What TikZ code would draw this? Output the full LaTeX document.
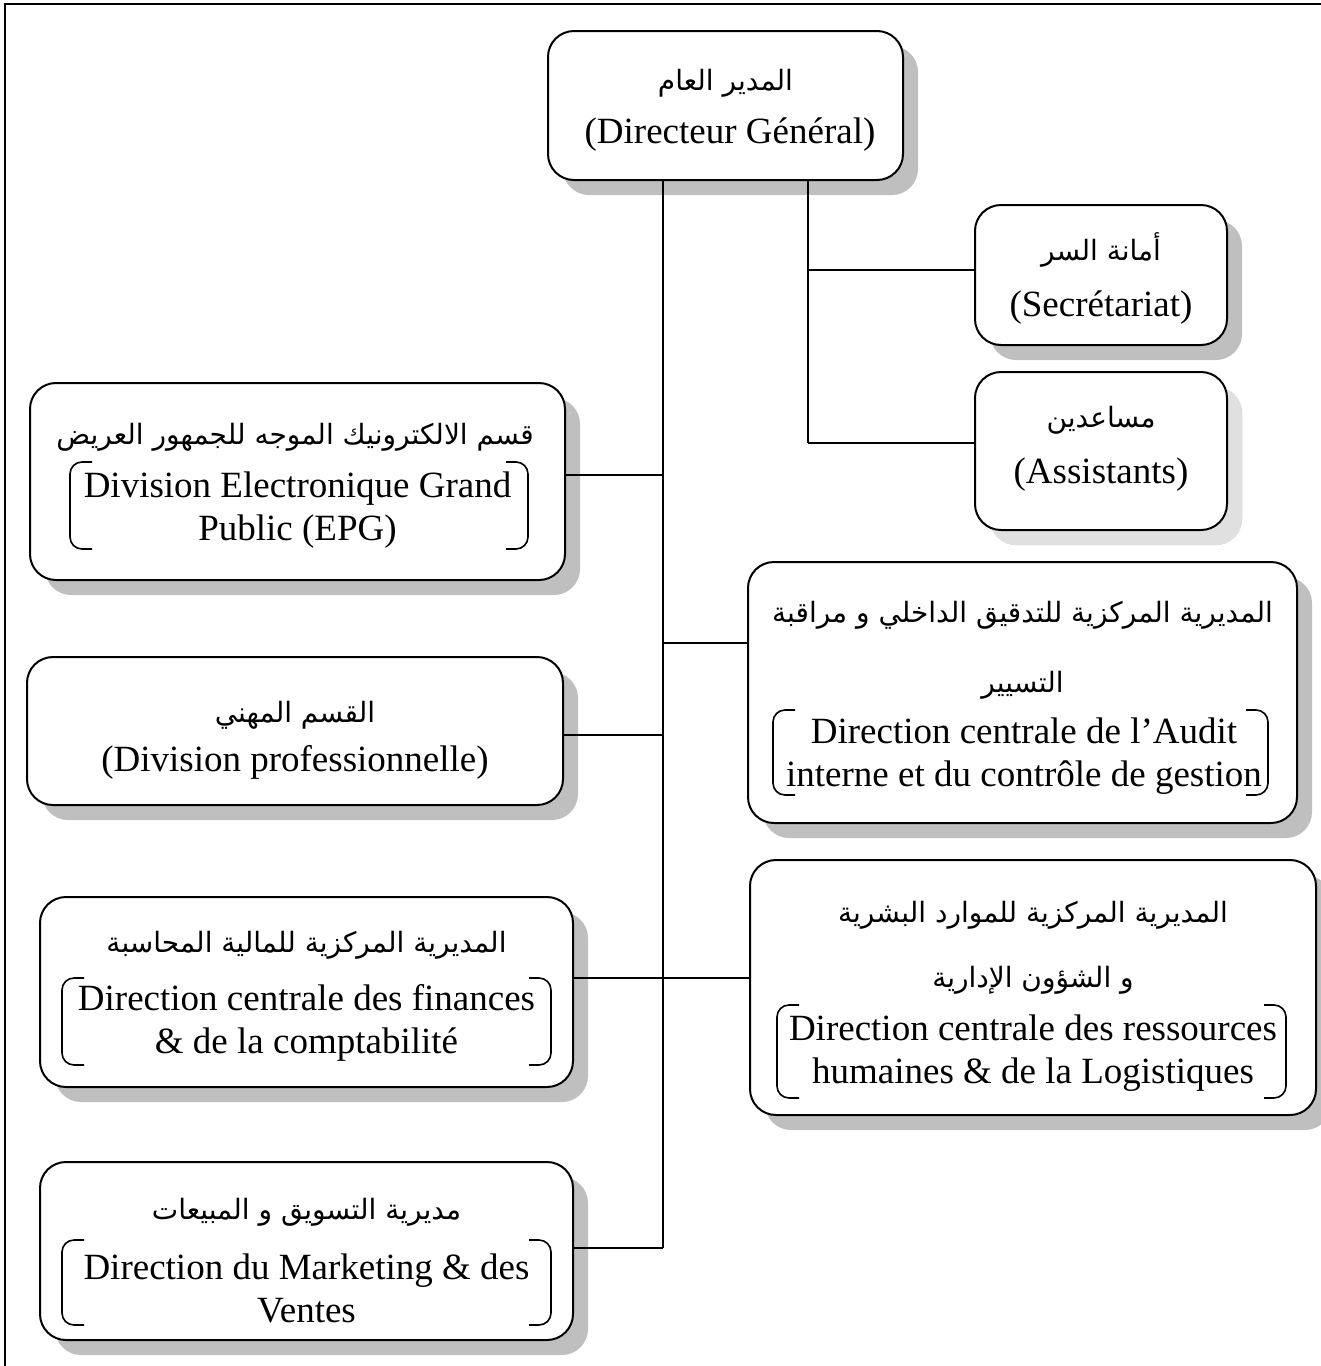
\documentclass[tikz,border=0pt]{standalone}
\usepackage{fontspec}
\setmainfont{Liberation Serif}
\newfontfamily\arabicfont[Script=Arabic]{DejaVu Sans}
\TeXXeTstate=1
\usetikzlibrary{shadows}

% a pair of square brackets with rounded ends, framing a French title
\newcommand\brackpair[4]{%
  \draw[brk] (#1+22,#2) -- (#1,#2) -- (#1,#4) -- (#1+22,#4);
  \draw[brk] (#3-22,#2) -- (#3,#2) -- (#3,#4) -- (#3-22,#4);
}

\begin{document}
\begin{tikzpicture}[x=1pt,y=-1pt,
  unit/.style={draw, line width=2pt, rounded corners=26pt, fill=white,
    inner sep=0pt,
    drop shadow={shadow xshift=15pt, shadow yshift=-15pt, fill=black!25, opacity=1}},
  faintunit/.style={unit,
    drop shadow={shadow xshift=15pt, shadow yshift=-15pt, fill=black!12, opacity=1}},
  ar/.style={inner sep=0pt, font={\arabicfont\fontsize{28}{33}\selectfont}},
  fr/.style={inner sep=0pt, align=center, font={\fontsize{37}{43}\selectfont}},
  link/.style={line width=1.5pt},
  brk/.style={line width=1.6pt, rounded corners=12pt},
]
\useasboundingbox (0,0) rectangle (1321,1366);

% page frame
\draw[line width=2.5pt] (5,1366) -- (5,4) -- (1321,4);

% units
\node[unit, minimum width=355pt, minimum height=149pt] (dg)  at (725.5,105.5) {};
\node[unit, minimum width=252pt, minimum height=140pt] (sec) at (1101,275) {};
\node[faintunit, minimum width=252pt, minimum height=158pt] (ass) at (1101,451) {};
\node[unit, minimum width=535pt, minimum height=197pt] (epg) at (297.5,481.5) {};
\node[unit, minimum width=549pt, minimum height=261pt] (aud) at (1022.5,692.5) {};
\node[unit, minimum width=536pt, minimum height=148pt] (pro) at (295,731) {};
\node[unit, minimum width=533pt, minimum height=190pt] (fin) at (306.5,992) {};
\node[unit, minimum width=566pt, minimum height=255pt] (rh)  at (1033,987.5) {};
\node[unit, minimum width=533pt, minimum height=178pt] (mkt) at (306.5,1251) {};

% connectors
\coordinate (trunktop) at (663,0 |- dg.south);
\coordinate (trunkend) at (663,1248);
\coordinate (branchtop) at (808,0 |- dg.south);
\coordinate (branchend) at (808,443);
\draw[link] (trunktop) -- (trunkend);
\draw[link] (branchtop) -- (branchend);
\draw[link] (808,270) -- (sec.west |- 0,270);
\draw[link] (branchend) -- (ass.west |- branchend);
\draw[link] (epg.east |- 0,475) -- (663,475);
\draw[link] (663,643) -- (aud.west |- 0,643);
\draw[link] (pro.east |- 0,735) -- (663,735);
\draw[link] (fin.east |- 0,978) -- (rh.west |- 0,978);
\draw[link] (mkt.east |- trunkend) -- (trunkend);

% texts
\node[ar] (dgA) at (725.5,83) {\beginR المدير العام\endR};
\node[fr] (dgF) at (730,135) {(Directeur Général)};

\node[ar] (secA) at (1101,250) {\beginR أمانة السر\endR};
\node[fr] (secF) at (1101,308) {(Secrétariat)};

\node[ar] (assA) at (1101,420) {\beginR مساعدين\endR};
\node[fr] (assF) at (1101,475) {(Assistants)};

\node[ar] (epgA) at (295,437) {\beginR قسم الالكترونيك الموجه للجمهور العريض\endR};
\node[fr] (epgF) at (297.5,510) {Division Electronique Grand\\Public (EPG)};
\brackpair{70}{462}{528}{549}

\node[ar] (audA1) at (1022.5,615) {\beginR المديرية المركزية للتدقيق الداخلي و مراقبة\endR};
\node[ar] (audA2) at (1022.5,685) {\beginR التسيير\endR};
\node[fr] (audF) at (1024,756) {Direction centrale de l’Audit\\interne et du contrôle de gestion};
\brackpair{773}{710}{1268}{795}

\node[ar] (proA) at (295,715) {\beginR القسم المهني\endR};
\node[fr] (proF) at (295,762) {(Division professionnelle)};

\node[ar] (finA) at (306.5,945) {\beginR المديرية المركزية للمالية المحاسبة\endR};
\node[fr] (finF) at (306.5,1023) {Direction centrale des finances\\\& de la comptabilité};
\brackpair{62}{978}{551}{1065}

\node[ar] (rhA1) at (1033,915) {\beginR المديرية المركزية للموارد البشرية\endR};
\node[ar] (rhA2) at (1033,980) {\beginR و الشؤون الإدارية\endR};
\node[fr] (rhF) at (1033,1053) {Direction centrale des ressources\\humaines \& de la Logistiques};
\brackpair{777}{1005}{1286}{1098}

\node[ar] (mktA) at (306.5,1212) {\beginR مديرية التسويق و المبيعات\endR};
\node[fr] (mktF) at (306.5,1288) {Direction du Marketing \& des\\Ventes};
\brackpair{62}{1240}{551}{1325}
\end{tikzpicture}
\end{document}
